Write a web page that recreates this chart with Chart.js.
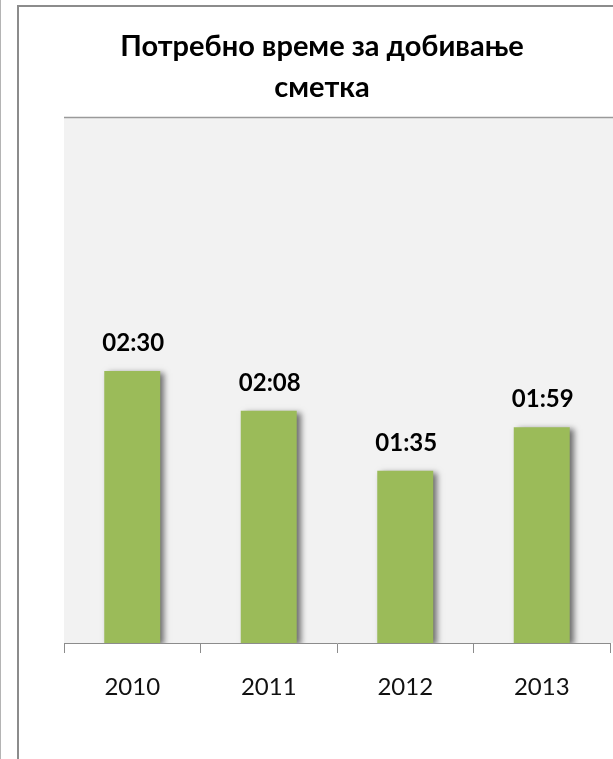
<!DOCTYPE html>
<html>
<head>
<meta charset="utf-8">
<script src="https://cdn.jsdelivr.net/npm/chart.js@4.4.0/dist/chart.umd.min.js"></script>
<style>
    html, body { margin: 0; padding: 0; background: #fff; overflow: hidden; }
    #wrap { position: relative; width: 613px; height: 759px; overflow: hidden; }
    #edge { position: absolute; left: 0; top: 0; width: 1px; height: 759px; background: #b4b4b4; }
    #frame { position: absolute; left: 17px; top: 5px; width: 800px; height: 900px; border: 2px solid #8c8c8c; }
    #chart { position: absolute; left: 0; top: 0; }
</style>
</head>
<body>
<div id="wrap">
    <div id="edge"></div>
    <div id="frame"></div>
    <canvas id="chart" width="613" height="759"></canvas>
</div>
<script>
const years = ['2010', '2011', '2012', '2013'];
// time in minutes, shown as hh:mm
const minutes = [150, 128, 95, 119];
const yMax = 290;
const titleLines = ['Потребно време за добивање', 'сметка'];

function toClock(v) {
    const h = Math.floor(v / 60);
    const m = v % 60;
    return String(h).padStart(2, '0') + ':' + String(m).padStart(2, '0');
}

// grey plot background with a line on top
const plotBackground = {
    id: 'plotBackground',
    beforeDraw(chart) {
        const { ctx, chartArea } = chart;
        ctx.save();
        ctx.fillStyle = '#f2f2f2';
        ctx.fillRect(chartArea.left, chartArea.top, chart.width - chartArea.left, chartArea.bottom - chartArea.top);
        ctx.strokeStyle = '#9a9a9a';
        ctx.lineWidth = 1.5;
        ctx.beginPath();
        ctx.moveTo(chartArea.left, chartArea.top + 0.5);
        ctx.lineTo(chart.width, chartArea.top + 0.5);
        ctx.stroke();
        ctx.restore();
    }
};

// title centred on the outer frame rather than the plot
const frameTitle = {
    id: 'frameTitle',
    afterDraw(chart) {
        const ctx = chart.ctx;
        ctx.save();
        ctx.font = 'bold 29px Lato';
        ctx.fillStyle = '#000';
        ctx.textAlign = 'center';
        ctx.textBaseline = 'middle';
        titleLines.forEach((line, i) => {
            ctx.fillText(line, 322, 47 + i * 41);
        });
        ctx.restore();
    }
};

// soft shadow behind the bars
const barShadow = {
    id: 'barShadow',
    beforeDatasetsDraw(chart) {
        const ctx = chart.ctx;
        ctx.save();
        ctx.shadowColor = 'rgba(0, 0, 0, 0.55)';
        ctx.shadowBlur = 6;
        ctx.shadowOffsetX = 4;
        ctx.shadowOffsetY = 2;
    },
    afterDatasetsDraw(chart) {
        chart.ctx.restore();
    }
};

const valueLabels = {
    id: 'valueLabels',
    afterDatasetsDraw(chart) {
        const ctx = chart.ctx;
        const meta = chart.getDatasetMeta(0);
        ctx.save();
        ctx.font = 'bold 24px Lato';
        ctx.fillStyle = '#000';
        ctx.textAlign = 'center';
        ctx.textBaseline = 'alphabetic';
        meta.data.forEach((bar, i) => {
            ctx.fillText(toClock(minutes[i]), bar.x + 1, bar.y - 20);
        });
        ctx.restore();
    }
};

new Chart(document.getElementById('chart'), {
    type: 'bar',
    data: {
        labels: years,
        datasets: [{
            data: minutes,
            backgroundColor: '#9bbb59',
            borderWidth: 0,
            categoryPercentage: 1,
            barPercentage: 0.41
        }]
    },
    options: {
        responsive: false,
        animation: false,
        layout: { padding: { left: 64, right: 3, top: 117, bottom: 0 } },
        plugins: {
            legend: { display: false },
            tooltip: { enabled: false },
            title: { display: false }
        },
        scales: {
            x: {
                grid: { display: true, drawOnChartArea: false, tickLength: 10, color: '#8c8c8c' },
                border: { color: '#8c8c8c', width: 1 },
                ticks: { color: '#111', font: { family: 'Lato', size: 24 }, padding: 20 },
                afterFit(scale) { scale.height = 116; }
            },
            y: {
                display: false,
                min: 0,
                max: yMax
            }
        }
    },
    plugins: [plotBackground, barShadow, valueLabels, frameTitle]
});
</script>
</body>
</html>
